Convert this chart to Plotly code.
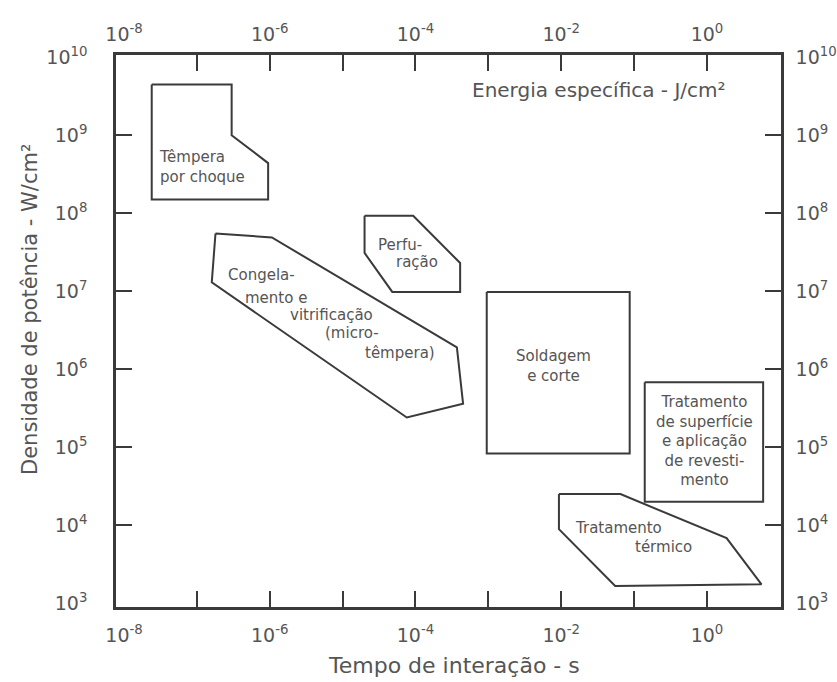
import math
import plotly.graph_objects as go

# ---------------- data ----------------
# Interaction time (s) and power density (W/cm2) for each process region
tempera_t = [2.4e-8, 3.0e-7, 3.0e-7, 9.5e-7, 9.5e-7, 2.4e-8, 2.4e-8]
tempera_p = [4.5e9, 4.5e9, 1.0e9, 4.4e8, 1.5e8, 1.5e8, 4.5e9]

congel_t = [1.8e-7, 1.07e-6, 3.7e-4, 4.5e-4, 7.6e-5, 1.6e-7, 1.8e-7]
congel_p = [5.5e7, 4.9e7, 1.9e6, 3.6e5, 2.4e5, 1.3e7, 5.5e7]

perf_t = [2.0e-5, 9.3e-5, 4.1e-4, 4.1e-4, 4.8e-5, 2.0e-5, 2.0e-5]
perf_p = [9.3e7, 9.3e7, 2.3e7, 9.8e6, 9.8e6, 3.1e7, 9.3e7]

sold_t = [9.5e-4, 8.7e-2, 8.7e-2, 9.5e-4, 9.5e-4]
sold_p = [9.8e6, 9.8e6, 8.3e4, 8.3e4, 9.8e6]

sup_t = [0.14, 5.9, 5.9, 0.14, 0.14]
sup_p = [6.8e5, 6.8e5, 2.0e4, 2.0e4, 6.8e5]

term_t = [9.3e-3, 6.5e-2, 1.86, 5.6, 5.5e-2, 9.3e-3, 9.3e-3]
term_p = [2.5e4, 2.5e4, 6.8e3, 1.74e3, 1.66e3, 8.9e3, 2.5e4]

# Region labels: (text, time, power, anchor)
labels = [
    ("Têmpera<br>por choque", 2.8e-8, 3.9e8, "left"),
    ("Congela-", 7.6e-7, 1.6e7, "center"),
    ("mento e", 1.22e-6, 8.3e6, "center"),
    ("vitrificação", 7.1e-6, 4.9e6, "center"),
    ("(micro-", 1.35e-5, 2.9e6, "center"),
    ("têmpera)", 6.2e-5, 1.6e6, "center"),
    ("Perfu-", 6.2e-5, 3.9e7, "center"),
    ("ração", 1.05e-4, 2.35e7, "center"),
    ("Soldagem<br>e corte", 7.8e-3, 1.1e6, "center"),
    ("Tratamento<br>de superfície<br>e aplicação<br>de revesti-<br>mento", 0.93, 1.2e5, "center"),
    ("Tratamento", 6.2e-2, 9.3e3, "center"),
    ("térmico", 2.5e-1, 5.25e3, "center"),
]

x_tick_vals = [1e-8, 1e-6, 1e-4, 1e-2, 1e0]
x_tick_text = ["10<sup>-8</sup>", "10<sup>-6</sup>", "10<sup>-4</sup>", "10<sup>-2</sup>", "10<sup>0</sup>"]
x_minor_vals = [1e-7, 1e-6, 1e-5, 1e-4, 1e-3, 1e-2, 1e-1, 1e0]
y_tick_vals = [1e3, 1e4, 1e5, 1e6, 1e7, 1e8, 1e9, 1e10]
y_tick_text = ["10<sup>%d</sup>" % n for n in range(3, 11)]
y_minor_vals = [1e4, 1e5, 1e6, 1e7, 1e8, 1e9]

# ---------------- figure ----------------
LINE = "#3a3a3a"
TEXT = "#555555"
FONT = "DejaVu Sans, Verdana, sans-serif"

fig = go.Figure()
for tx, py in [(tempera_t, tempera_p), (congel_t, congel_p), (perf_t, perf_p),
               (sold_t, sold_p), (sup_t, sup_p), (term_t, term_p)]:
    fig.add_trace(go.Scatter(x=tx, y=py, mode="lines",
                             line=dict(color=LINE, width=2),
                             hoverinfo="skip", showlegend=False))

# invisible trace to activate secondary axes
fig.add_trace(go.Scatter(x=[1e-3], y=[1e5], xaxis="x2", yaxis="y2",
                         mode="markers", marker=dict(opacity=0),
                         hoverinfo="skip", showlegend=False))

for text, t, p, anchor in labels:
    fig.add_annotation(x=math.log10(t), y=math.log10(p), xref="x", yref="y",
                       text=text, showarrow=False, xanchor=anchor,
                       align=anchor if anchor != "center" else "center",
                       font=dict(family=FONT, size=15, color=TEXT))

xr = [-8.11, 1.016]
yr = [2.95, 10.03]

common_x = dict(type="log", range=xr, tickvals=x_tick_vals, ticktext=x_tick_text,
                ticks="", showgrid=False, zeroline=False, showline=True,
                linecolor=LINE, linewidth=2.5, automargin=False,
                tickfont=dict(family=FONT, size=19, color=TEXT),
                minor=dict(tickvals=x_minor_vals, ticks="inside", ticklen=16,
                           tickwidth=1.5, tickcolor=LINE, showgrid=False))
common_y = dict(type="log", range=yr, tickvals=y_tick_vals, ticktext=y_tick_text,
                ticks="", showgrid=False, zeroline=False, showline=True,
                linecolor=LINE, linewidth=2.5, automargin=False,
                tickfont=dict(family=FONT, size=19, color=TEXT),
                minor=dict(tickvals=y_minor_vals, ticks="inside", ticklen=16,
                           tickwidth=1.5, tickcolor=LINE, showgrid=False))

fig.update_layout(
    width=837, height=682,
    margin=dict(l=116, r=56, t=55, b=75, autoexpand=False),
    paper_bgcolor="white", plot_bgcolor="white",
    xaxis=dict(**common_x, side="bottom", anchor="y", ticklabelstandoff=9),
    xaxis2=dict(**common_x, side="top", overlaying="x", anchor="y", ticklabelstandoff=4),
    yaxis=dict(**common_y, side="left", anchor="x", ticklabelstandoff=22),
    yaxis2=dict(**common_y, side="right", overlaying="y", anchor="x", ticklabelstandoff=8),
)

fig.add_annotation(text="Tempo de interação - s", xref="paper", yref="paper",
                   x=(454 - 116) / 665, y=-(665 - 607) / 552, showarrow=False,
                   xanchor="center", yanchor="middle",
                   font=dict(family=FONT, size=22, color=TEXT))
fig.add_annotation(text="Densidade de potência - W/cm²", xref="paper", yref="paper",
                   x=-(116 - 30) / 665, y=(607 - 310) / 552, showarrow=False,
                   textangle=-90, xanchor="center", yanchor="middle",
                   font=dict(family=FONT, size=21, color=TEXT))
fig.add_annotation(text="Energia específica - J/cm²", xref="paper", yref="paper",
                   x=(728 - 116) / 665, y=(607 - 90) / 552, showarrow=False,
                   xanchor="right", yanchor="middle",
                   font=dict(family=FONT, size=20, color=TEXT))

fig.write_html("out.html")
